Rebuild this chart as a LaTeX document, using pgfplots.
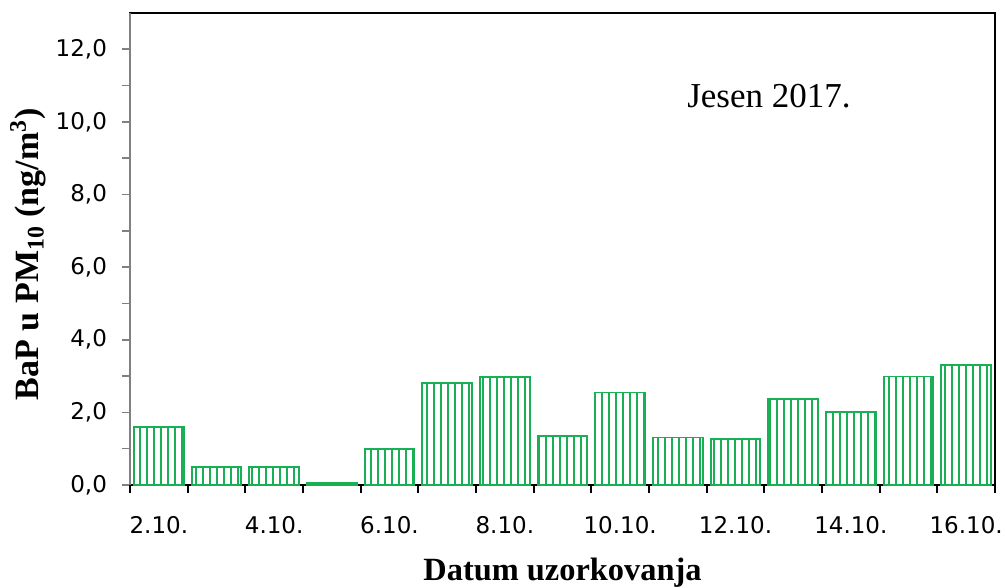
\documentclass[border=0pt]{standalone}
\usepackage{fontspec}
\setmainfont{Liberation Serif}
\newfontfamily\tickfont{DejaVu Sans}
\usepackage{pgfplots}
\pgfplotsset{compat=1.18}
\usetikzlibrary{patterns.meta}
\definecolor{bargreen}{RGB}{25,175,85}
\begin{document}
\begin{tikzpicture}
\path[use as bounding box] (0,0) rectangle (502.5pt,294pt);
\begin{axis}[
  at={(65pt,51.5pt)}, anchor=south west,
  scale only axis, width=432.5pt, height=236pt,
  xmin=0.5, xmax=15.5, ymin=0, ymax=13,
  axis line style={black, line width=0.8pt},
  tick align=outside,
  xtick pos=bottom, ytick pos=left,
  major tick length=4pt, minor tick length=4pt,
  xtick={0.5,1.5,2.5,3.5,4.5,5.5,6.5,7.5,8.5,9.5,10.5,11.5,12.5,13.5,14.5,15.5},
  xticklabels={},
  x tick style={black, line width=0.9pt},
  extra x ticks={1,3,5,7,9,11,13,15},
  extra x tick labels={2.10.,4.10.,6.10.,8.10.,10.10.,12.10.,14.10.,16.10.},
  extra x tick style={tick style={draw=none}},
  ytick={0,2,4,6,8,10,12},
  yticklabels={{0,0},{2,0},{4,0},{6,0},{8,0},{10,0},{12,0}},
  minor ytick={1,3,5,7,9,11},
  y tick style={gray, line width=0.8pt},
  ticklabel style={font=\tickfont\fontsize{11.5}{13}\selectfont, text=black},
  xticklabel style={yshift=-8pt},
  yticklabel style={xshift=-4pt},
  xlabel={\bfseries Datum uzorkovanja},
  ylabel={\bfseries BaP u PM\textsubscript{10} (ng/m\textsuperscript{3})},
  xlabel style={font=\fontsize{16.2}{18}\selectfont, at={(axis description cs:0.5,0)}, anchor=center, yshift=-44pt},
  ylabel style={font=\fontsize{17}{19}\selectfont, at={(axis description cs:0,0.489)}, anchor=center, yshift=51pt},
  clip=false,
]
\addplot[ybar, bar width=0.86, draw=bargreen, line width=0.9pt,
  pattern={Lines[angle=90,distance=3.5pt,line width=0.9pt]}, pattern color=bargreen]
  coordinates {(1,1.6) (2,0.5) (3,0.5) (4,0.05) (5,1.0) (6,2.8) (7,2.97) (8,1.34)
               (9,2.55) (10,1.31) (11,1.27) (12,2.36) (13,2.0) (14,2.99) (15,3.3)};
\draw[gray, line width=0.8pt] (axis cs:0.5,0) -- (axis cs:0.5,13);
\node[font=\fontsize{17.5}{20}\selectfont] at (axis cs:11.58,10.7) {Jesen 2017.};
\end{axis}
\end{tikzpicture}
\end{document}
